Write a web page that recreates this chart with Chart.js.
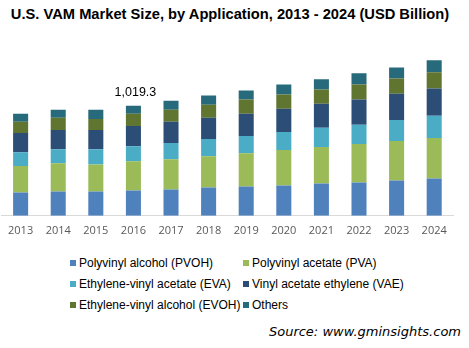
<!DOCTYPE html>
<html>
<head>
<meta charset="utf-8">
<script src="https://cdn.jsdelivr.net/npm/chart.js@4/dist/chart.umd.min.js"></script>
<style>
  html, body { margin: 0; padding: 0; background: #fff; }
  body { width: 469px; height: 348px; position: relative; overflow: hidden; font-family: "Liberation Sans", Arial, sans-serif; }
  #title { position: absolute; left: 0; top: 6px; width: 460px; text-align: center; font-weight: bold; font-size: 14.7px; color: #000; }
  #wrap { position: absolute; left: 0; top: 30px; width: 469px; height: 215px; }
  #legend { position: absolute; left: 70px; top: 256px; font-size: 12px; color: #000; }
  #legend .row { height: 21px; white-space: nowrap; }
  #legend .item { display: inline-block; width: 173px; }
  #legend .box { display: inline-block; width: 6px; height: 6px; margin-right: 3px; vertical-align: 1px; }
  #source { position: absolute; right: 8px; top: 324px; font-style: italic; font-size: 13px; color: #000; font-family: "DejaVu Sans", sans-serif; }
</style>
</head>
<body>
<div id="title">U.S. VAM Market Size, by Application, 2013 - 2024 (USD Billion)</div>
<div id="wrap"><canvas id="chart"></canvas></div>
<div id="legend"></div>
<div id="source">Source: www.gminsights.com</div>
<script>
// 年份
const years = ['2013', '2014', '2015', '2016', '2017', '2018', '2019', '2020', '2021', '2022', '2023', '2024'];

// 各应用数据 (USD Billion)
const pvoh = [215, 224, 224, 234, 243, 262, 271, 281, 299, 309, 327, 346];
const pva = [246, 262, 252, 271, 281, 290, 309, 327, 337, 355, 365, 374];
const eva = [128, 131, 140, 140, 150, 159, 159, 168, 178, 178, 196, 206];
const vae = [178, 178, 178, 187, 196, 196, 206, 215, 224, 234, 243, 252];
const evoh = [103, 112, 103, 112, 112, 122, 131, 131, 131, 140, 140, 150];
const others = [75, 75, 84, 75, 84, 84, 84, 94, 94, 103, 103, 112];

// 标注
const labelYear = '2016';
const labelText = '1,019.3';

const seriesNames = [
    'Polyvinyl alcohol (PVOH)', 'Polyvinyl acetate (PVA)',
    'Ethylene-vinyl acetate (EVA)', 'Vinyl acetate ethylene (VAE)',
    'Ethylene-vinyl alcohol (EVOH)', 'Others'
];
const seriesData = [pvoh, pva, eva, vae, evoh, others];
const seriesColors = ['#4F81BD', '#9BBB59', '#4BACC6', '#2C4D75', '#5F7530', '#276A7C'];

// 柱顶标注插件
const topLabel = {
    id: 'topLabel',
    afterDatasetsDraw(chart) {
        const idx = years.indexOf(labelYear);
        const total = seriesData.reduce((s, d) => s + d[idx], 0);
        const x = chart.scales.x.getPixelForValue(idx);
        const y = chart.scales.y.getPixelForValue(total);
        const ctx = chart.ctx;
        ctx.save();
        ctx.font = '12.5px "Liberation Sans", Arial, sans-serif';
        ctx.fillStyle = '#000';
        ctx.textAlign = 'center';
        ctx.textBaseline = 'bottom';
        ctx.fillText(labelText, x + 2, y - 7);
        ctx.restore();
    }
};

new Chart(document.getElementById('chart'), {
    type: 'bar',
    data: {
        labels: years,
        datasets: seriesData.map((d, i) => ({
            label: seriesNames[i],
            data: d,
            backgroundColor: seriesColors[i],
            borderWidth: 0,
            barPercentage: 0.4,
            categoryPercentage: 1.0
        }))
    },
    options: {
        responsive: true,
        maintainAspectRatio: false,
        animation: false,
        layout: { padding: { left: 1, right: 16, top: 0, bottom: 0 } },
        plugins: {
            legend: { display: false },
            tooltip: { enabled: false }
        },
        scales: {
            x: {
                stacked: true,
                grid: { display: false, drawTicks: false },
                border: { color: '#D9D9D9', width: 1 },
                ticks: {
                    color: '#595959',
                    padding: 8,
                    font: { family: '"Open Sans", sans-serif', size: 11 }
                }
            },
            y: {
                stacked: true,
                display: false,
                min: 0,
                max: 1720
            }
        }
    },
    plugins: [topLabel]
});

// 自定义图例 (两列)
const legend = document.getElementById('legend');
for (let r = 0; r < 3; r++) {
    const row = document.createElement('div');
    row.className = 'row';
    for (let c = 0; c < 2; c++) {
        const i = r * 2 + c;
        const item = document.createElement('span');
        item.className = 'item';
        item.innerHTML = '<span class="box" style="background:' + seriesColors[i] + '"></span>' + seriesNames[i];
        row.appendChild(item);
    }
    legend.appendChild(row);
}
</script>
</body>
</html>
